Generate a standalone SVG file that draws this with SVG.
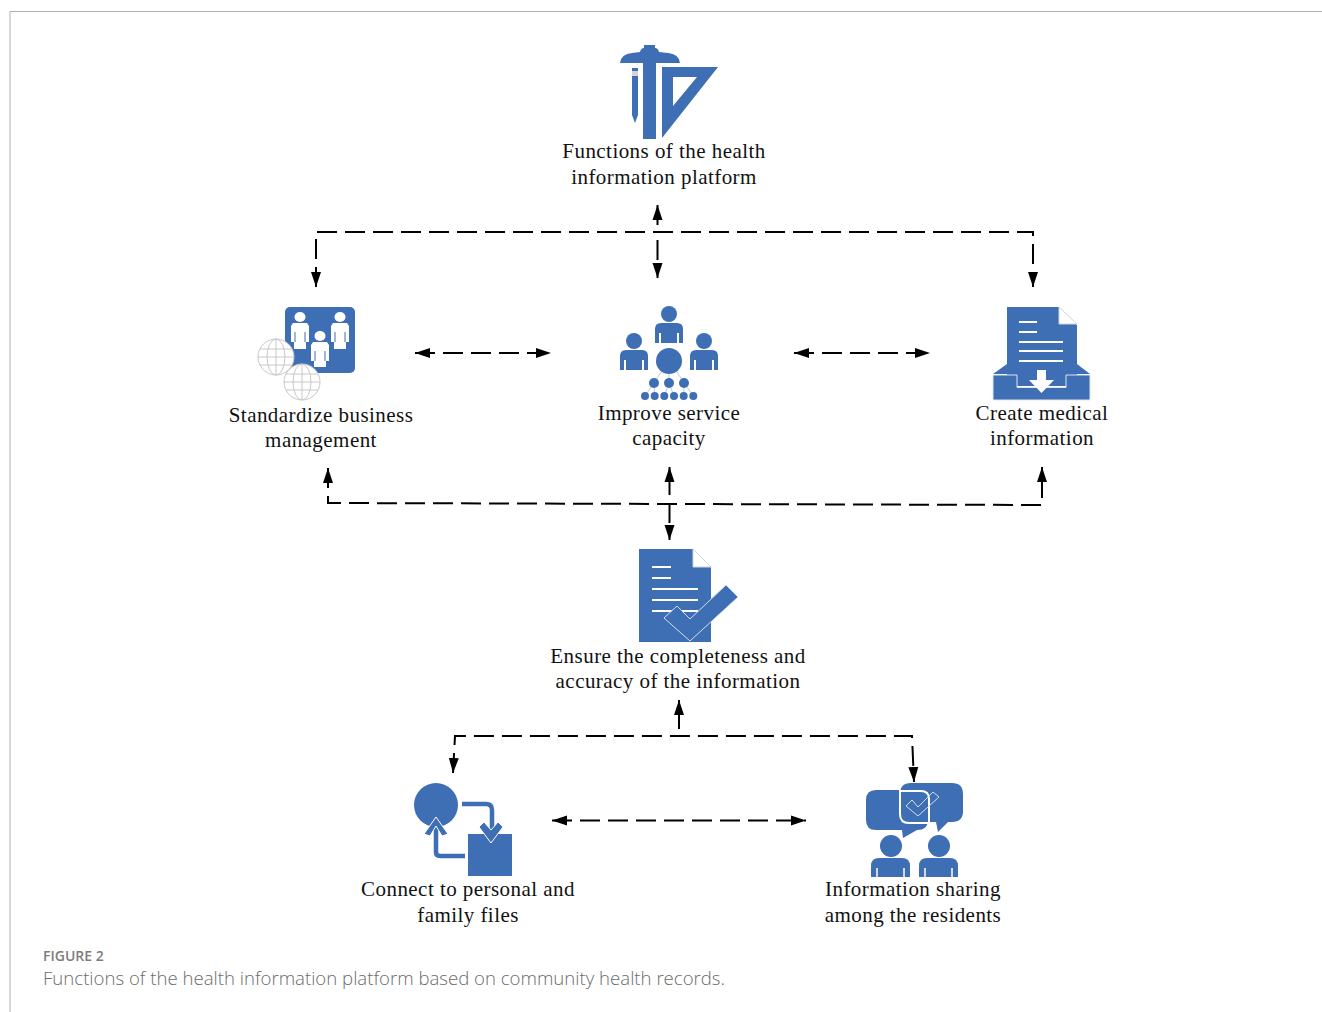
<svg xmlns="http://www.w3.org/2000/svg" width="1322" height="1012" viewBox="0 0 1322 1012">
<style>
.b{fill:#3e6eb4}
.w{fill:#fff}
.t{font-family:"Liberation Serif",serif;font-size:21px;letter-spacing:.45px;fill:#111;text-anchor:middle}
.c{fill:none;stroke:#000;stroke-width:2;stroke-dasharray:20 8}
.a{marker-end:url(#ah)}
.s{marker-start:url(#ah)}
.g{fill:#fff;stroke:#c8c8c8;stroke-width:1}
.gl{fill:none;stroke:#c8c8c8;stroke-width:1}
</style>
<defs>
<marker id="ah" markerUnits="userSpaceOnUse" markerWidth="16" markerHeight="12" refX="15" refY="6" orient="auto-start-reverse"><path d="M0,1 L15,6 L0,11 Z" fill="#000"/></marker>
<g id="gb"><circle r="18" class="g"/><ellipse rx="9" ry="18" class="gl"/><path d="M0,-18V18M-18,0H18M-16,-8H16M-16,8H16" class="gl"/></g>
</defs>
<rect width="1322" height="1012" fill="#fff"/>
<path d="M10,1012V11.500H1322" fill="none" stroke="#b0b0b0" stroke-width="1"/>
<g id="connectors">
<path class="c s a" d="M316,287V232H1033V287"/>
<path class="c s a" style="stroke-dasharray:20 15 20 5 13" d="M657.500,205V278"/>
<path class="c s a" d="M415,353H551"/>
<path class="c s a" d="M794,353H930"/>
<path class="c s a" d="M328,468V503L1042,505V467"/>
<path fill="none" stroke="#000" stroke-width="2" class="s" d="M669.500,467V495"/>
<path class="c a" d="M669.500,503V540"/>
<path fill="none" stroke="#000" stroke-width="2" class="s" d="M679,700V729"/>
<path class="c s a" d="M453,773L455,736H912L914,782"/>
<path class="c s a" d="M552,820.500H806"/>
</g>
<g id="node-top">
<path class="b" d="M620,63Q621,54 632,53L640,52Q641,48 644,48V45H655V48Q658,48 659,52L668,53Q679,54 680,63H656V139H643V63Z"/>
<path class="b" d="M632,68H638V115L635,123L632,115Z"/>
<rect x="632" y="71" width="6" height="5" fill="#d5d5d5"/>
<path class="b" fill-rule="evenodd" d="M662,67H718L662,138ZM673,77V106L697,77Z"/>
<text class="t" x="664" y="158">Functions of the health</text>
<text class="t" x="664" y="184">information platform</text>
</g>
<g id="node-standardize">
<rect class="b" x="285" y="307" width="70" height="66" rx="5"/>
<g class="w">
<ellipse cx="300" cy="317" rx="5.500" ry="5"/><path d="M293,323H307L309,326V342H306V349H294V342H291V326Z"/>
<ellipse cx="340" cy="317" rx="5.500" ry="5"/><path d="M333,323H347L349,326V342H346V349H334V342H331V326Z"/>
<ellipse cx="320" cy="336" rx="5.500" ry="5"/><path d="M313,342H327L329,345V361H326V367H314V361H311V345Z"/>
</g>
<path d="M295,332V342M305,332V342M335,332V342M345,332V342M315,351V361M325,351V361" stroke="#3e6eb4" stroke-width="1" fill="none"/>
<use href="#gb" x="276" y="357"/>
<use href="#gb" x="302" y="382"/>
<text class="t" x="321" y="422">Standardize business</text>
<text class="t" x="321" y="447">management</text>
</g>
<g id="node-improve">
<path d="M661,372L654,383M669,374V383M677,372L684,383M654,383L645,396M654,383L654.700,396M669,383L664.300,396M669,383L674,396M684,383L683.700,396M684,383L693.300,396" stroke="#c0c8d8" stroke-width="1" fill="none"/>
<g class="b">
<circle cx="669" cy="314" r="8"/><path d="M655,343V329Q655,323 661,323H677Q683,323 683,329V343Z"/>
<circle cx="634" cy="341" r="8"/><path d="M620,370V356Q620,350 626,350H642Q648,350 648,356V370Z"/>
<circle cx="704" cy="341" r="8"/><path d="M690,370V356Q690,350 696,350H712Q718,350 718,356V370Z"/>
<circle cx="669" cy="361" r="13"/>
<circle cx="654" cy="383" r="5"/><circle cx="669" cy="383" r="5"/><circle cx="684" cy="383" r="5"/>
<circle cx="645" cy="396" r="4"/><circle cx="654.700" cy="396" r="4"/><circle cx="664.300" cy="396" r="4"/><circle cx="674" cy="396" r="4"/><circle cx="683.700" cy="396" r="4"/><circle cx="693.300" cy="396" r="4"/>
</g>
<path d="M660,333V343M678,333V343M625,360V370M643,360V370M695,360V370M713,360V370" stroke="#fff" stroke-width="2" fill="none"/>
<text class="t" x="669" y="420">Improve service</text>
<text class="t" x="669" y="445">capacity</text>
</g>
<g id="node-create">
<path class="b" d="M993,374L1007,364V374ZM1090,374L1077,364V374Z"/>
<path class="b" d="M1007,307H1059L1077,325V386H1007Z"/>
<path fill="#fff" stroke="#cfd6e2" d="M1059,307V324H1077Z"/>
<path d="M1019,322H1037M1019,332H1037M1019,342H1063M1019,351H1063M1019,361H1063" stroke="#fff" stroke-width="2" fill="none"/>
<path class="b" stroke="#dfe5ef" stroke-width="1" d="M993,375H1017V387.500H1066V375H1090V400H993Z"/>
<path class="w" d="M1037,370H1046V380H1054L1041.500,393L1029,380H1037Z"/>
<text class="t" x="1042" y="420">Create medical</text>
<text class="t" x="1042" y="445">information</text>
</g>
<g id="node-ensure">
<path class="b" d="M639,549H693L711,567V642H639Z"/>
<path fill="#fff" stroke="#cfd6e2" d="M693,549V567H711Z"/>
<path d="M652,567H671M652,578H671M652,589H698M652,600H698M652,611H698" stroke="#fff" stroke-width="2" fill="none"/>
<path class="b" stroke="#d5deec" stroke-width="1" d="M664,618L677,606L690,619L726,585L738,597L690,641Z"/>
<text class="t" x="678" y="663">Ensure the completeness and</text>
<text class="t" x="678" y="688">accuracy of the information</text>
</g>
<g id="node-connect">
<circle class="b" cx="436" cy="805" r="22"/>
<rect class="b" x="468" y="834" width="44" height="42"/>
<path d="M462,804H486Q492,804 492,810V832" fill="none" stroke="#3e6eb4" stroke-width="4.500"/>
<path class="b" stroke="#fff" stroke-width="1" d="M479,827L484,822L491,830L498,822L503,827L491,843Z"/>
<path d="M465,856H440Q436,856 436,852V826" fill="none" stroke="#3e6eb4" stroke-width="4.500"/>
<path class="b" stroke="#fff" stroke-width="1" d="M436,817L448,834L442,836L436,826L430,836L424,834Z"/>
<text class="t" x="468" y="896">Connect to personal and</text>
<text class="t" x="468" y="922">family files</text>
</g>
<g id="node-sharing">
<path class="b" d="M876,790H917Q928,790 928,801V820Q928,830 917,830L903,838L902,830H876Q866,830 866,820V800Q866,790 876,790Z"/>
<path class="b" d="M911,783H952Q963,783 963,794V811Q963,822 952,822H948L938,832L936,822H911Q900,822 900,811V794Q900,783 911,783Z"/>
<path d="M900,791H921Q929,791 929,799V823H909Q900,823 900,814Z" fill="#3e6eb4" stroke="#fff" stroke-width="2"/>
<path d="M906,806L912,800L918,807L933,792L939,797L918,816Z" fill="none" stroke="#d5deec" stroke-width="1"/>
<circle class="b" cx="891" cy="846" r="11"/>
<circle class="b" cx="939" cy="846" r="11"/>
<path class="b" d="M871,877V866Q871,858 879,858H902Q910,858 910,866V877Z"/>
<path class="b" d="M919,877V866Q919,858 927,858H950Q958,858 958,866V877Z"/>
<path d="M877,868V877M904,868V877M925,868V877M952,868V877" stroke="#fff" stroke-width="1.500" fill="none"/>
<text class="t" x="913" y="896">Information sharing</text>
<text class="t" x="913" y="922">among the residents</text>
</g>
<text x="43" y="961" font-family="Open Sans,sans-serif" font-size="14" font-weight="600" fill="#7c7c7c">FIGURE 2</text>
<text x="43" y="985" font-family="Open Sans,sans-serif" font-size="18.600" font-weight="300" fill="#6b6b6b">Functions of the health information platform based on community health records.</text>
</svg>
